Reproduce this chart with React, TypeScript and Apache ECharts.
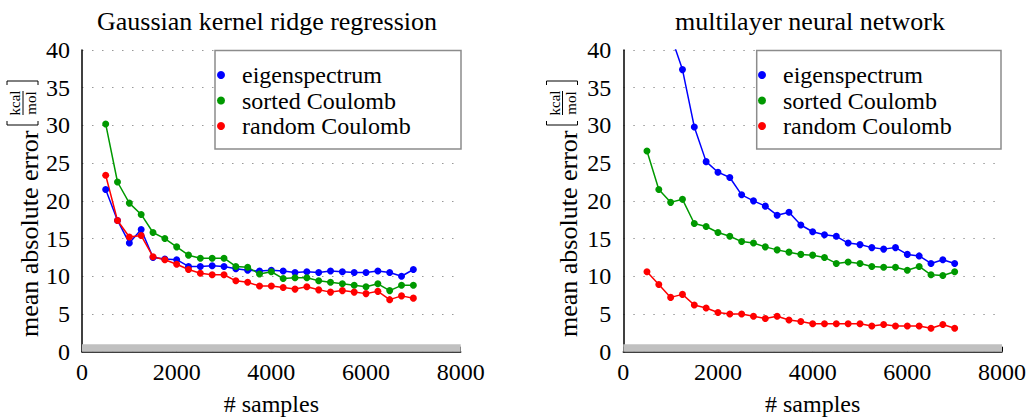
import React, { useEffect, useRef } from "react";
import * as echarts from "echarts";

const SAMPLES = [500, 750, 1000, 1250, 1500, 1750, 2000, 2250, 2500, 2750, 3000, 3250, 3500, 3750, 4000, 4250, 4500, 4750, 5000, 5250, 5500, 5750, 6000, 6250, 6500, 6750, 7000];

const KRR_EIGEN = [21.5, 17.4, 14.4, 16.2, 12.5, 12.3, 12.2, 11.3, 11.3, 11.4, 11.3, 11.0, 10.8, 10.7, 10.8, 10.7, 10.5, 10.6, 10.5, 10.7, 10.6, 10.5, 10.5, 10.7, 10.5, 10.0, 10.9];
const KRR_SORTED = [30.2, 22.5, 19.7, 18.2, 15.8, 15.0, 13.9, 12.8, 12.4, 12.4, 12.4, 11.3, 11.2, 10.3, 10.6, 9.7, 9.8, 9.8, 9.4, 9.2, 9.0, 8.8, 8.6, 9.0, 8.1, 8.8, 8.8];
const KRR_RANDOM = [23.4, 17.4, 15.2, 15.4, 12.6, 12.2, 11.6, 10.9, 10.4, 10.2, 10.2, 9.4, 9.2, 8.7, 8.7, 8.5, 8.3, 8.6, 8.2, 7.9, 8.1, 7.9, 7.7, 8.0, 6.9, 7.4, 7.1];

const NN_EIGEN = [58, 48, 42, 37.4, 29.8, 25.2, 23.8, 23.1, 20.8, 20.0, 19.3, 18.1, 18.5, 16.8, 15.9, 15.5, 15.3, 14.4, 14.2, 13.8, 13.6, 13.8, 12.9, 12.7, 11.7, 12.2, 11.7];
const NN_SORTED = [26.6, 21.5, 19.8, 20.2, 17.0, 16.6, 15.8, 15.3, 14.6, 14.4, 13.9, 13.5, 13.2, 12.9, 12.8, 12.5, 11.7, 11.9, 11.7, 11.3, 11.2, 11.2, 10.8, 11.3, 10.2, 10.1, 10.6];
const NN_RANDOM = [10.6, 8.9, 7.2, 7.6, 6.2, 5.8, 5.2, 5.0, 5.0, 4.7, 4.4, 4.7, 4.2, 4.0, 3.7, 3.7, 3.7, 3.7, 3.7, 3.4, 3.6, 3.4, 3.4, 3.4, 3.1, 3.6, 3.1];

const SERIES_NAMES = ["eigenspectrum", "sorted Coulomb", "random Coulomb"];
const COLORS = ["#0000ff", "#009900", "#ff0000"];
const TITLES = ["Gaussian kernel ridge regression", "multilayer neural network"];
const X_NAME = "# samples";
const Y_NAME = "mean absolute error";
const UNIT_NUM = "kcal";
const UNIT_DEN = "mol";
const X_MAX = 8000;
const X_STEP = 2000;
const Y_MAX = 40;
const Y_STEP = 5;
const CHEM_ACC = 1;

const FONT = "Liberation Serif";

function pair(xs: number[], ys: number[]) {
  return xs.map((x, i) => [x, ys[i]]);
}

function yLabel(cx: number) {
  const txt = (text: string, x: number, y: number, size: number, align: string) => ({
    type: "text",
    x,
    y,
    silent: true,
    style: { text, fontSize: size, fontFamily: FONT, fill: "#000", align, verticalAlign: "middle" },
  });
  return {
    type: "group",
    x: cx,
    y: 337,
    rotation: Math.PI / 2,
    silent: true,
    children: [
      txt(Y_NAME, 0, 0, 26, "left"),
      txt(UNIT_NUM, 234, -14, 15, "center"),
      { type: "line", shape: { x1: 222, y1: -6, x2: 246, y2: -6 }, style: { stroke: "#000", lineWidth: 1 } },
      txt(UNIT_DEN, 234, 2, 15, "center"),
      { type: "polyline", shape: { points: [[216, -22], [212, -22], [212, 9], [216, 9]] }, style: { stroke: "#000", fill: "none", lineWidth: 1 } },
      { type: "polyline", shape: { points: [[252, -22], [256, -22], [256, 9], [252, 9]] }, style: { stroke: "#000", fill: "none", lineWidth: 1 } },
    ],
  };
}

function legendBox(x: number, w: number) {
  return {
    type: "rect",
    z: 3,
    silent: true,
    shape: { x, y: 50.5, width: w, height: 98.5 },
    style: { fill: "#fff", stroke: "#8c8c8c", lineWidth: 1.5 },
  };
}

export default function App() {
  const ref = useRef<HTMLDivElement>(null);
  useEffect(() => {
    if (!ref.current) return;
    const chart = echarts.init(ref.current, null, { renderer: "svg" });
    const grids = [
      { left: 82, width: 378.7, top: 50, height: 301.7, outerBoundsMode: "none", containLabel: false },
      { left: 623.3, width: 378.7, top: 50, height: 301.7, outerBoundsMode: "none", containLabel: false },
    ];
    const xAxis = grids.map((_, i) => ({
      type: "value",
      gridIndex: i,
      min: 0,
      max: X_MAX,
      interval: X_STEP,
      name: X_NAME,
      nameLocation: "middle",
      nameGap: 40,
      nameTextStyle: { fontSize: 24, fontFamily: FONT, color: "#000" },
      axisLine: { show: true, onZero: false, lineStyle: { color: "#000", width: 1.5 } },
      axisTick: { show: true, inside: true, length: 5, lineStyle: { color: "#000", width: 1 } },
      axisLabel: { fontSize: 24, fontFamily: FONT, color: "#000", margin: 8, formatter: (v: number) => String(v) },
      splitLine: { show: false },
    }));
    const yAxis = grids.map((_, i) => ({
      type: "value",
      gridIndex: i,
      min: 0,
      max: Y_MAX,
      interval: Y_STEP,
      axisLine: { show: true, lineStyle: { color: "#000", width: 1.5 } },
      axisTick: { show: false },
      axisLabel: { fontSize: 24, fontFamily: FONT, color: "#000", margin: 12, formatter: (v: number) => String(v) },
      splitLine: { show: true, lineStyle: { color: "#999", width: 1, type: [1.5, 8.5] } },
    }));
    const groups = [
      [KRR_EIGEN, KRR_SORTED, KRR_RANDOM],
      [NN_EIGEN, NN_SORTED, NN_RANDOM],
    ];
    const series: any[] = [];
    groups.forEach((g, gi) => {
      g.forEach((vals, si) => {
        series.push({
          type: "line",
          name: SERIES_NAMES[si],
          xAxisIndex: gi,
          yAxisIndex: gi,
          data: pair(SAMPLES, vals),
          symbol: "circle",
          symbolSize: 7,
          showSymbol: true,
          clip: true,
          color: COLORS[si],
          lineStyle: { width: 1.5, color: COLORS[si] },
          itemStyle: { color: COLORS[si] },
          markArea:
            si === 0
              ? {
                  silent: true,
                  itemStyle: { color: "#c0c0c0" },
                  data: [[{ yAxis: 0 }, { yAxis: CHEM_ACC }]],
                }
              : undefined,
        });
      });
    });
    const legendBase = {
      orient: "vertical",
      top: 63,
      icon: "circle",
      itemWidth: 32,
      itemHeight: 8,
      itemGap: 1.5,
      padding: 0,
      z: 5,
      data: SERIES_NAMES,
      textStyle: { fontSize: 24, fontFamily: FONT, color: "#000", lineHeight: 24 },
      selectedMode: false,
    };
    chart.setOption({
      animation: false,
      backgroundColor: "#fff",
      title: [
        { text: TITLES[0], left: 267, top: 8, textAlign: "center", padding: 0, textStyle: { fontSize: 26, fontFamily: FONT, fontWeight: "normal", color: "#000" } },
        { text: TITLES[1], left: 810, top: 8, textAlign: "center", padding: 0, textStyle: { fontSize: 26, fontFamily: FONT, fontWeight: "normal", color: "#000" } },
      ],
      grid: grids,
      xAxis,
      yAxis,
      legend: [
        { ...legendBase, left: 217 },
        { ...legendBase, left: 758 },
      ],
      series,
      graphic: [
        legendBox(215, 246),
        legendBox(756.7, 244.3),
        yLabel(29),
        yLabel(568.5),
      ],
    });
    return () => chart.dispose();
  }, []);
  return (
    <div
      ref={ref}
      style={{ position: "fixed", left: 0, top: 0, width: 1026, height: 417, background: "#fff" }}
    />
  );
}
